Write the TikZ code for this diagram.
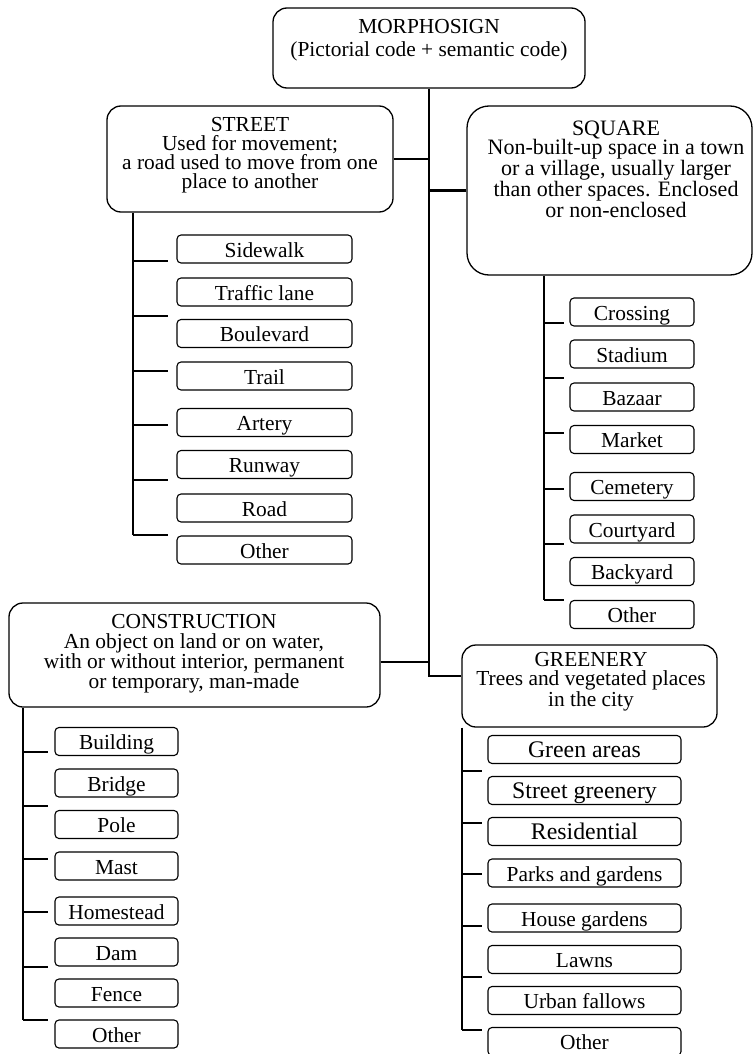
\documentclass[tikz,border=0pt]{standalone}
\usepackage{fontspec}
\setmainfont{Liberation Serif}
\usetikzlibrary{positioning}

\tikzset{
  catbox/.style={draw, rounded corners=14pt, line width=1.3pt, inner sep=0pt},
  cattext/.style={anchor=north, align=center, inner sep=0pt, font=\fontsize{21.4}{19}\selectfont},
  item/.style={draw, rounded corners=4pt, line width=1.1pt, inner sep=0pt, minimum height=28pt,
    text height=16pt, text depth=0pt, font=\fontsize{21.4}{24}\selectfont},
  itembig/.style={item, font=\fontsize{23.8}{26}\selectfont},
  trunk/.style={line width=2.8pt},
  branch/.style={line width=1.6pt},
  tick/.style={line width=1.1pt},
}

\begin{document}
\begin{tikzpicture}[x=1pt, y=-1pt, line cap=butt, line join=miter]
  \useasboundingbox (0,0) rectangle (755,1054);

  % Root
  \node[catbox, minimum width=312pt, minimum height=80pt] (root) at (429,48) {};
  \node[cattext, font=\fontsize{21.4}{23.7}\selectfont] (rootT) at (429,18.7)
    {MORPHOSIGN\\(Pictorial code + semantic code)};

  % Categories
  \node[catbox, minimum width=286pt, minimum height=106pt] (street) at (250,159) {};
  \node[cattext] (streetT) at (250,117.4)
    {STREET\\Used for movement;\\a road used to move from one\\place to another};

  \node[catbox, rounded corners=22pt, minimum width=285pt, minimum height=169pt] (square) at (609.5,190.5) {};
  \node[cattext, font=\fontsize{22}{17.5}\selectfont] (squareT) at (616,120.3)
    {SQUARE\\Non-built-up space in a town\\or a village, usually larger\\than other spaces. Enclosed\\or non-enclosed};

  \node[catbox, minimum width=371pt, minimum height=104pt] (cons) at (194.5,655) {};
  \node[cattext, font=\fontsize{21.4}{20}\selectfont] (consT) at (194,613.7)
    {CONSTRUCTION\\An object on land or on water,\\with or without interior, permanent\\or temporary, man-made};

  \node[catbox, minimum width=255pt, minimum height=82pt] (grn) at (589.5,686) {};
  \node[cattext] (grnT) at (591,652.4)
    {GREENERY\\Trees and vegetated places\\in the city};

  % Main trunk
  \draw[trunk] (root.south) |- ([yshift=10pt]grn.west);
  \draw[trunk] (street.east) -- (street.east -| root.south);
  \draw[trunk] (square.west) -- (square.west -| root.south);
  \draw[trunk] ([yshift=-7pt]cons.east) -- ([yshift=-7pt]cons.east -| root.south);

  % Street items
  \coordinate (stEnd) at (133,535);
  \draw[branch] (street.south -| stEnd) -- (stEnd);
  \foreach \y in {261,316,371,425,480,535}
    \draw[tick] (133,\y) -- ++(35,0);
  \foreach \n/\y/\t in {1/249/Sidewalk, 2/292/Traffic lane, 3/333.5/Boulevard, 4/376/Trail,
      5/422.5/Artery, 6/464.5/Runway, 7/508/Road, 8/550/Other}
    \node[item, minimum width=175pt] (st\n) at (264.5,\y) {\t};

  % Square items
  \coordinate (sqEnd) at (544,600);
  \draw[branch] (square.south -| sqEnd) -- (sqEnd);
  \foreach \y in {323,378,433,489,544,600}
    \draw[tick] (544,\y) -- ++(20,0);
  \foreach \n/\y/\t in {1/312/Crossing, 2/354/Stadium, 3/397/Bazaar, 4/439.5/Market,
      5/486.5/Cemetery, 6/529/Courtyard, 7/571.5/Backyard, 8/614.5/Other}
    \node[item, minimum width=124pt] (sq\n) at (632,\y) {\t};

  % Construction items
  \coordinate (coEnd) at (23,1020);
  \draw[branch] (cons.south -| coEnd) -- (coEnd);
  \foreach \y in {752,806,859,912,967,1020}
    \draw[tick] (23,\y) -- ++(25,0);
  \foreach \n/\y/\t in {1/741.5/Building, 2/783/Bridge, 3/824.5/Pole, 4/866/Mast,
      5/911/Homestead, 6/952/Dam, 7/993/Fence, 8/1034/Other}
    \node[item, minimum width=123pt] (co\n) at (116.5,\y) {\t};

  % Greenery items
  \coordinate (grEnd) at (462,1030);
  \draw[branch] (grn.south -| grEnd) -- (grEnd);
  \foreach \y in {771,823,874,926,977,1030}
    \draw[tick] (462,\y) -- ++(20,0);
  \foreach \n/\y/\t in {1/749.5/Green areas, 2/790.5/Street greenery, 3/831.5/Residential}
    \node[itembig, minimum width=193pt] (gr\n) at (584.5,\y) {\t};
  \foreach \n/\y/\t in {4/873/Parks and gardens, 5/918/House gardens, 6/959.5/Lawns,
      7/1000.5/Urban fallows, 8/1041.5/Other}
    \node[item, minimum width=193pt] (gr\n) at (584.5,\y) {\t};
\end{tikzpicture}
\end{document}
